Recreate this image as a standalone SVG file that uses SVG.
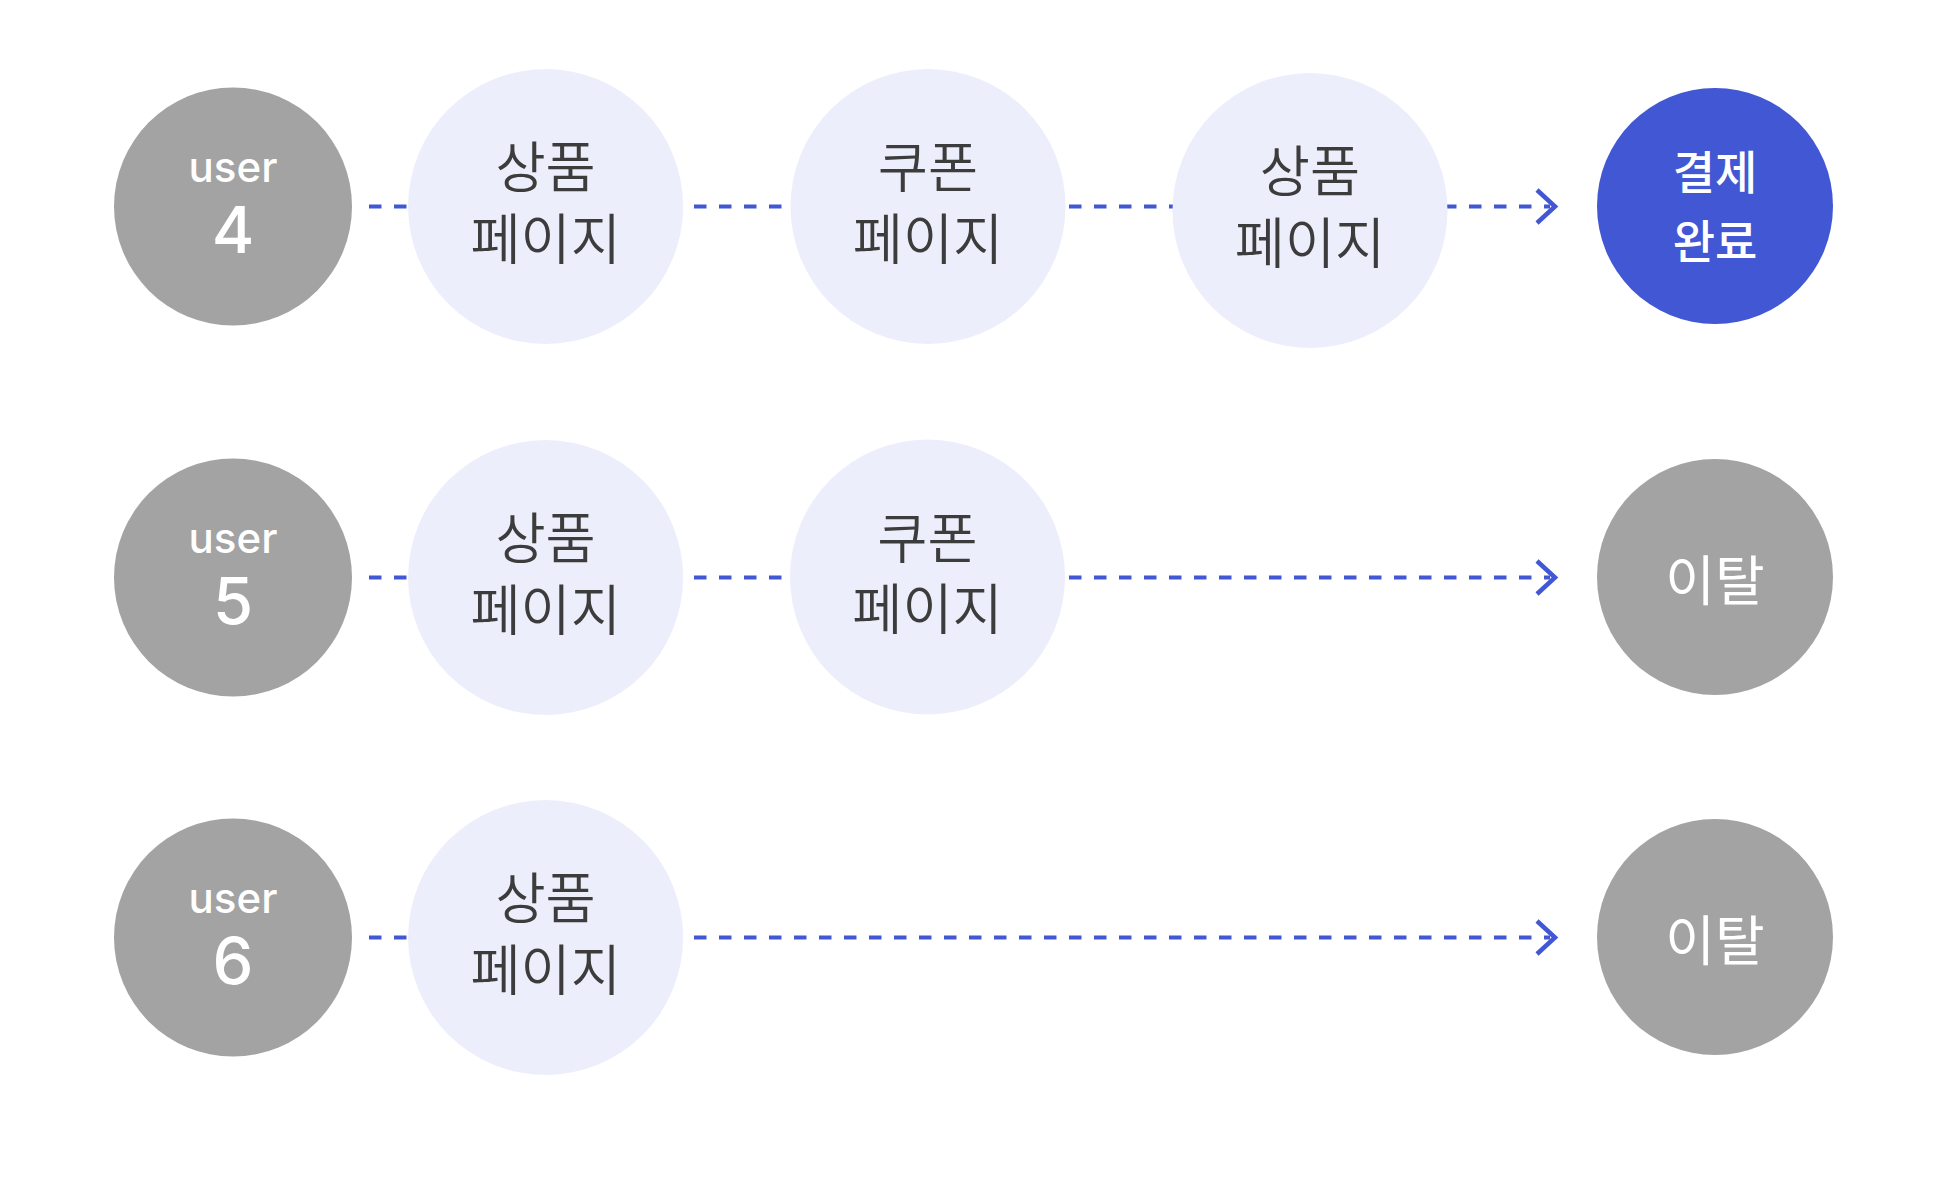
<svg xmlns="http://www.w3.org/2000/svg" width="1949" height="1177" viewBox="0 0 1949 1177">
<style>
.user{fill:#a3a3a3}
.page{fill:#eceefb}
.done{fill:#4157d4}
.drop{fill:#a3a3a3}
.lat{font-family:Inter,"Liberation Sans",sans-serif;fill:#fff;text-anchor:middle;font-weight:500}
.ut{font-size:42px}
.un{font-size:65px}
.ko{font-family:"Noto Sans CJK KR","Noto Sans",sans-serif;text-anchor:middle}
.pt{font-size:54.5px;fill:#3c3c3c;font-weight:350}
.wt{font-size:46px;fill:#fff;font-weight:500}
.dt{font-size:54px;fill:#fff}
.dash{stroke:#4157d4;stroke-width:4;stroke-dasharray:12.5 12.5;fill:none}
.chev{stroke:#4157d4;stroke-width:4.5;fill:none}
</style>
<rect width="1949" height="1177" fill="#fff"/>
<g id="connectors">
<line class="dash" x1="369" y1="206.5" x2="1550" y2="206.5"/>
<polyline class="chev" points="1537,190 1555,206.5 1537,223"/>
<line class="dash" x1="369" y1="577.5" x2="1550" y2="577.5"/>
<polyline class="chev" points="1537,561 1555,577.5 1537,594"/>
<line class="dash" x1="369" y1="937.5" x2="1550" y2="937.5"/>
<polyline class="chev" points="1537,921 1555,937.5 1537,954"/>
</g>
<g id="user4"><circle class="user" cx="233" cy="206.5" r="119"/><text class="lat ut" x="233" y="181.5">user</text><text class="lat un" x="233" y="252.5">4</text></g>
<g id="r1p1"><circle class="page" cx="545.6" cy="206.5" r="137.5"/><text class="ko pt" x="545.6" y="187">상품</text><text class="ko pt" x="545.6" y="258.5">페이지</text></g>
<g id="r1p2"><circle class="page" cx="928" cy="206.5" r="137.5"/><text class="ko pt" x="928" y="187">쿠폰</text><text class="ko pt" x="928" y="258.5">페이지</text></g>
<g id="r1p3"><circle class="page" cx="1310" cy="210.5" r="137.5"/><text class="ko pt" x="1310" y="191">상품</text><text class="ko pt" x="1310" y="262.5">페이지</text></g>
<g id="done"><circle class="done" cx="1715" cy="206" r="118"/><text class="ko wt" x="1715" y="189">결제</text><text class="ko wt" x="1715" y="258">완료</text></g>

<g id="user5"><circle class="user" cx="233" cy="577.5" r="119"/><text class="lat ut" x="233" y="552.5">user</text><text class="lat un" x="233" y="623.5">5</text></g>
<g id="r2p1"><circle class="page" cx="545.6" cy="577.5" r="137.5"/><text class="ko pt" x="545.6" y="558">상품</text><text class="ko pt" x="545.6" y="629.5">페이지</text></g>
<g id="r2p2"><circle class="page" cx="927.5" cy="577" r="137.5"/><text class="ko pt" x="927.5" y="557.5">쿠폰</text><text class="ko pt" x="927.5" y="629">페이지</text></g>
<g id="drop5"><circle class="drop" cx="1715" cy="577" r="118"/><text class="ko dt" x="1715" y="601">이탈</text></g>

<g id="user6"><circle class="user" cx="233" cy="937.5" r="119"/><text class="lat ut" x="233" y="912.5">user</text><text class="lat un" x="233" y="983.5">6</text></g>
<g id="r3p1"><circle class="page" cx="545.6" cy="937.5" r="137.5"/><text class="ko pt" x="545.6" y="918">상품</text><text class="ko pt" x="545.6" y="989.5">페이지</text></g>
<g id="drop6"><circle class="drop" cx="1715" cy="937" r="118"/><text class="ko dt" x="1715" y="961">이탈</text></g>
</svg>
